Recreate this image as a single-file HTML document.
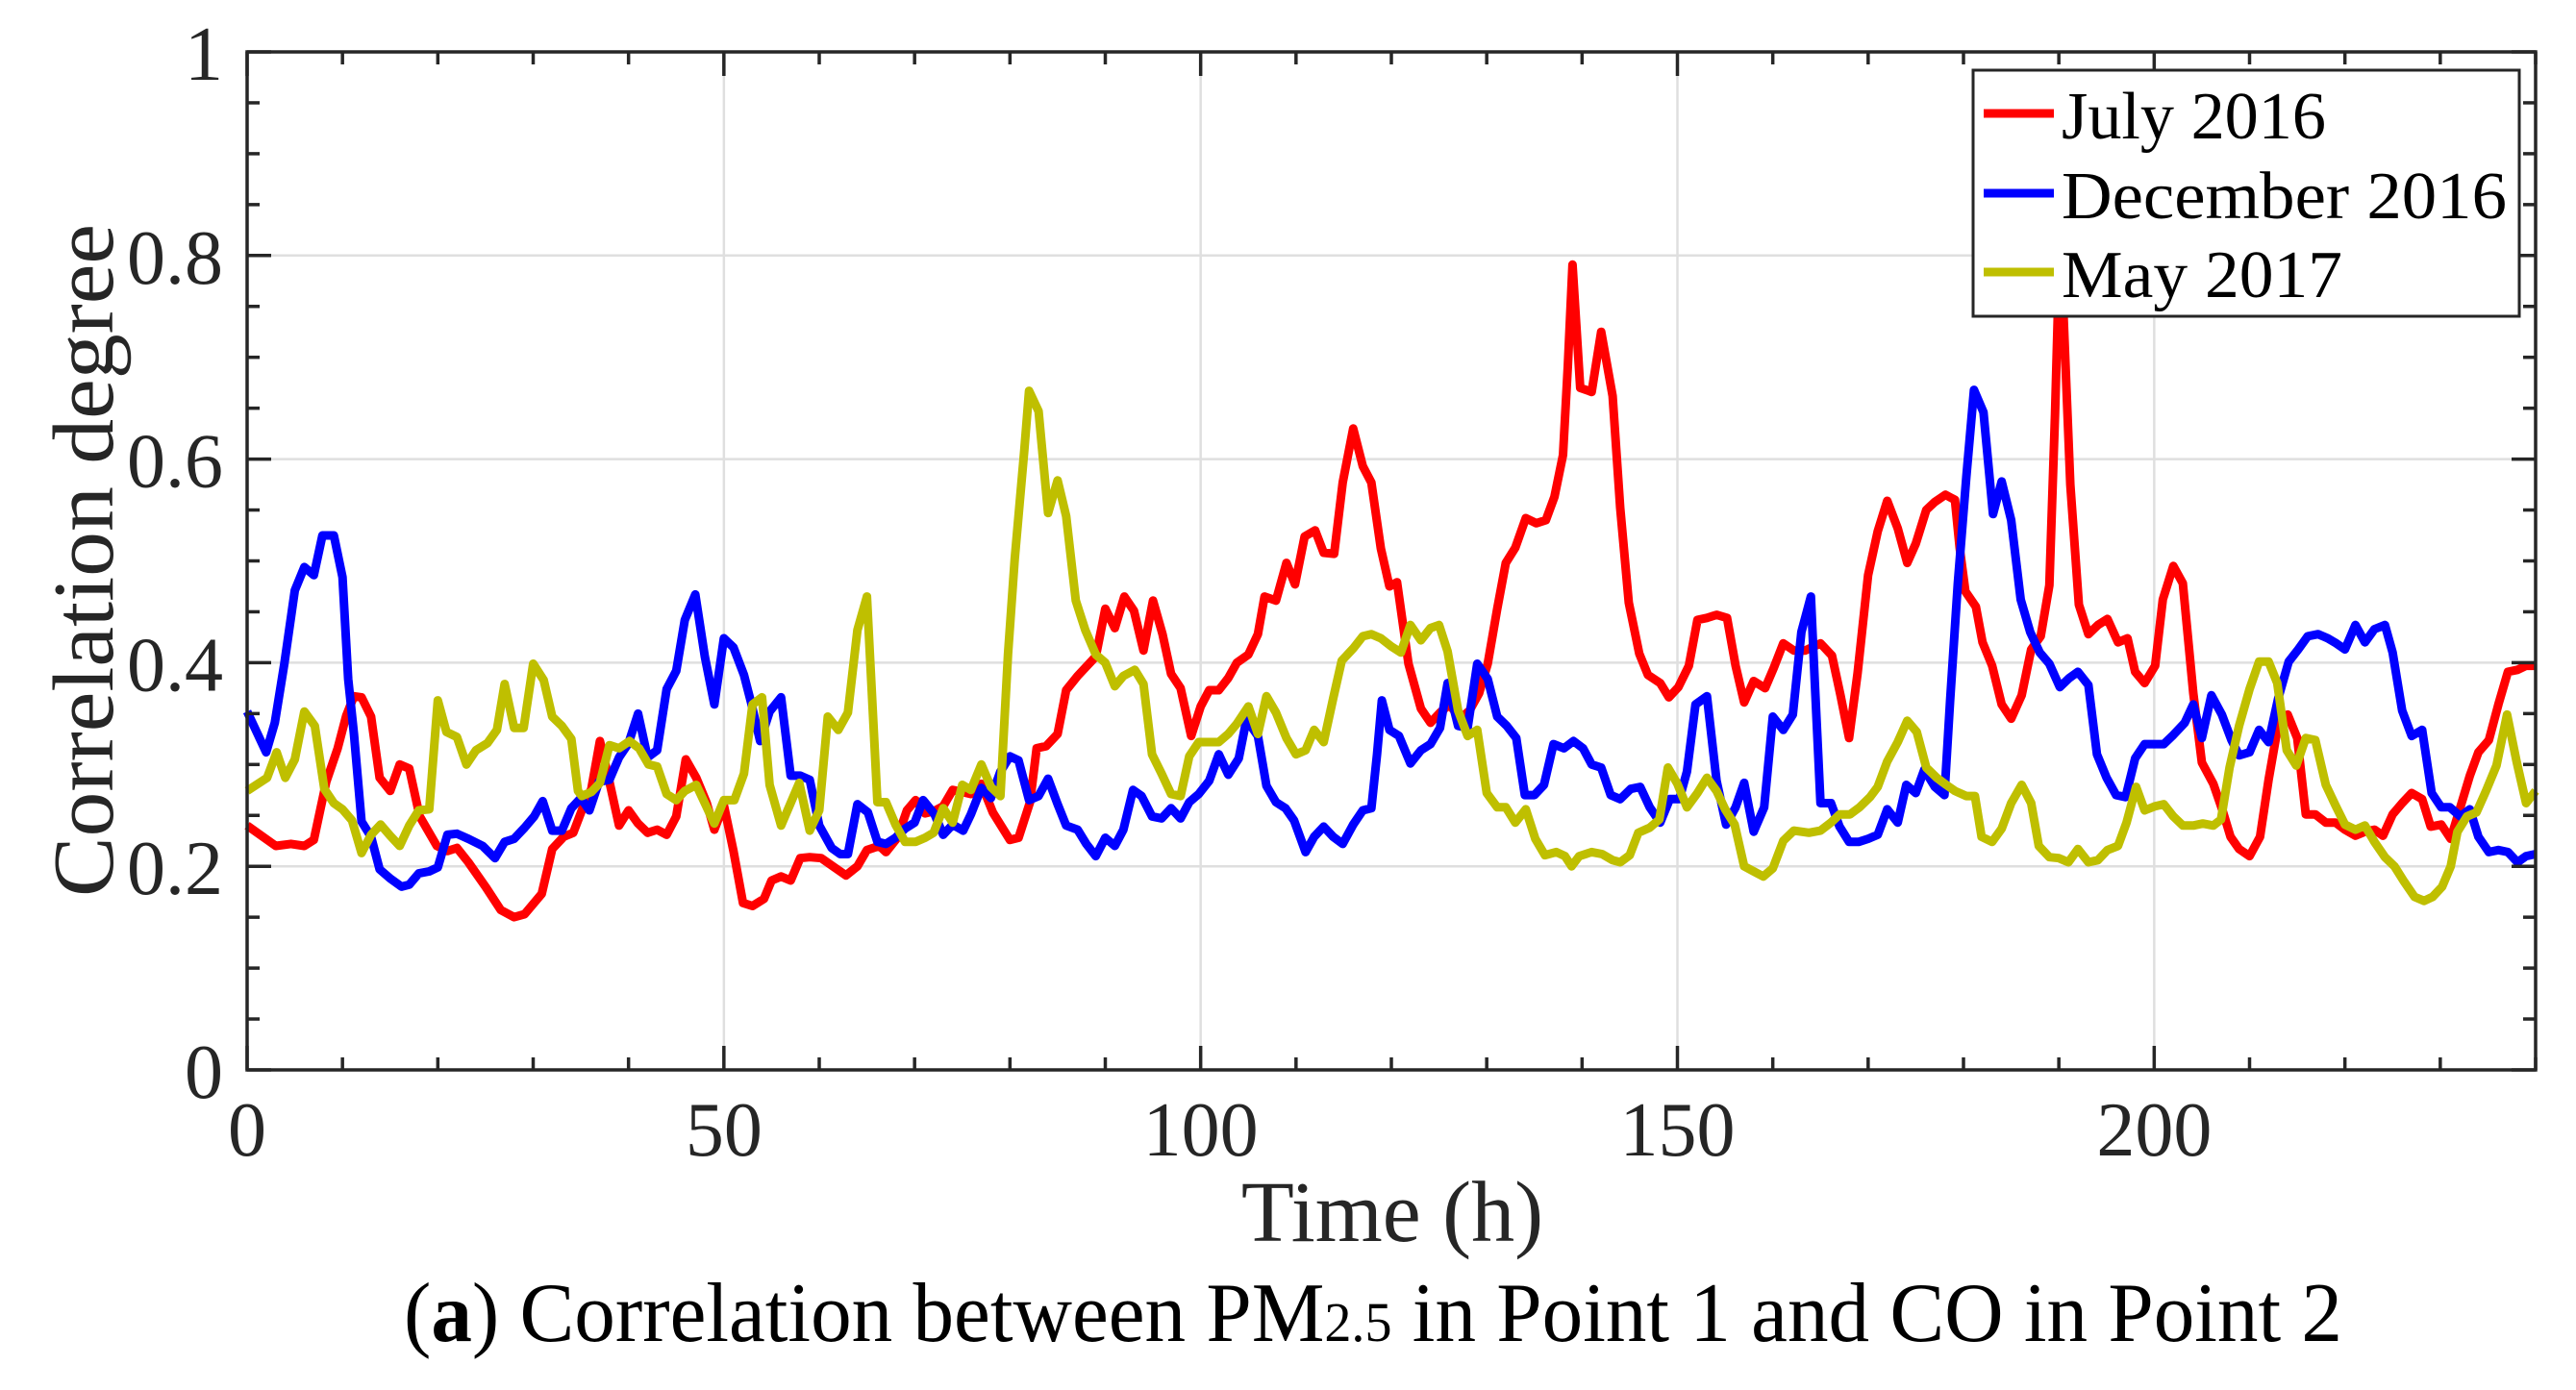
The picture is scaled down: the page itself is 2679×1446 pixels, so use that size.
<!DOCTYPE html>
<html><head><meta charset="utf-8"><style>
html,body{margin:0;padding:0;background:#fff;}
svg{display:block;font-family:"Liberation Serif",serif;}
</style></head><body>
<svg id="chart" xmlns="http://www.w3.org/2000/svg" width="2679" height="1446" viewBox="0 0 2679 1446">
<rect x="0" y="0" width="2679" height="1446" fill="#fff"/>
<g id="grid"></g>
<g id="series"></g>
<g id="axes"></g>
<g id="legend"></g>
<text x="1448" y="1291" font-size="90" text-anchor="middle" fill="#262626">Time (h)</text>
<text transform="translate(117,583) rotate(-90)" x="0" y="0" font-size="90" text-anchor="middle" fill="#262626" textLength="700" lengthAdjust="spacingAndGlyphs">Correlation degree</text>
<text x="420" y="1395" font-size="88" fill="#000" textLength="2016" lengthAdjust="spacingAndGlyphs">(<tspan font-weight="bold">a</tspan>) Correlation between PM<tspan font-size="58">2.5</tspan> in Point 1 and CO in Point 2</text>
</svg>
<script>
const xTicks = [0, 50, 100, 150, 200];
const yTicks = [0, 0.2, 0.4, 0.6, 0.8, 1];
const yTickLabels = ["0", "0.2", "0.4", "0.6", "0.8", "1"];
const seriesNames = ["July 2016", "December 2016", "May 2017"];

const julyH = [0,3,4.6,6,7,8.3,9.5,10.4,11.2,12,13,13.9,15,16,17,18.1,19.9,21,22,23.2,25,26.6,28,29.1,30.9,32,33.2,34.2,35.1,36.1,37,38,39,40,41,42,43,44,45,46,47.1,48.2,49,50,51,52,53,54.2,55,56,57,58,59,60.2,62.8,64,65,66.3,67,68.2,69.2,70.1,71.1,72,73,74,75,75.9,77,78.2,80,80.9,82.1,82.8,83.8,85,85.9,87.1,88,89,90,91,92,93,94,95,96,96.9,97.9,99,100,100.9,101.9,102.9,103.8,105,106,106.7,107.9,109,109.9,110.9,112,112.9,114,114.9,116,117,117.9,118.9,119.8,120.6,121.8,123.1,124.1,125.1,126.1,127.2,128.2,129.2,130.1,131.1,132,133,134.1,135.2,136.2,137.1,138,138.5,139,139.8,141,142,143.2,144,144.9,146,146.9,148.2,149.1,150.1,151.2,152.1,153.1,154.1,155.2,156.1,157,158,159.2,160.1,161.1,162.2,163.4,165,166.2,167.1,168,168.9,170,171,172,173.1,174.1,175,176.1,177,178.1,179.1,179.6,180.2,181.3,182,183,184,185,186.1,187.1,188.1,189,189.6,190,190.5,191.2,192.1,193.1,194.1,195.1,196.2,197.2,198,199,200.1,200.9,202,203,204.1,205,206.2,207.2,208,208.9,210,211.1,212,213,214,215,215.9,216.9,218,219,220,221.1,222.1,223.1,224,225,226,227,228.1,229,230.1,231.1,232.1,233.1,234,235.1,236.1,237.1,238.1,239,240];
const julyV = [0.24,0.22,0.222,0.22,0.226,0.283,0.316,0.348,0.367,0.366,0.347,0.287,0.274,0.30,0.296,0.249,0.22,0.215,0.218,0.204,0.18,0.157,0.15,0.153,0.173,0.217,0.229,0.233,0.255,0.276,0.323,0.283,0.24,0.255,0.242,0.233,0.236,0.231,0.249,0.305,0.287,0.262,0.236,0.26,0.215,0.164,0.161,0.168,0.186,0.19,0.186,0.208,0.209,0.208,0.191,0.2,0.216,0.22,0.214,0.228,0.255,0.265,0.252,0.254,0.259,0.275,0.273,0.271,0.281,0.253,0.226,0.228,0.263,0.316,0.318,0.33,0.373,0.387,0.396,0.406,0.453,0.434,0.465,0.451,0.412,0.461,0.428,0.389,0.375,0.328,0.357,0.373,0.373,0.385,0.4,0.408,0.428,0.465,0.461,0.498,0.477,0.524,0.53,0.508,0.507,0.577,0.63,0.593,0.577,0.512,0.475,0.479,0.399,0.355,0.341,0.351,0.359,0.345,0.353,0.37,0.399,0.453,0.498,0.513,0.542,0.537,0.54,0.563,0.604,0.691,0.791,0.67,0.666,0.725,0.662,0.552,0.459,0.409,0.388,0.38,0.366,0.376,0.397,0.442,0.444,0.447,0.444,0.397,0.361,0.382,0.375,0.395,0.419,0.412,0.412,0.419,0.407,0.368,0.326,0.39,0.486,0.529,0.559,0.532,0.498,0.517,0.55,0.558,0.565,0.56,0.513,0.47,0.455,0.42,0.397,0.359,0.345,0.368,0.413,0.426,0.476,0.644,0.78,0.74,0.575,0.457,0.428,0.437,0.443,0.42,0.424,0.391,0.38,0.397,0.462,0.495,0.478,0.37,0.302,0.281,0.254,0.229,0.217,0.21,0.229,0.285,0.339,0.349,0.326,0.251,0.251,0.243,0.243,0.236,0.23,0.234,0.236,0.23,0.251,0.262,0.272,0.266,0.239,0.241,0.227,0.258,0.289,0.312,0.324,0.359,0.391,0.393,0.397,0.397];

const decH = [0,2,2.9,3.9,5,6,7,7.9,9.1,10,10.6,11.2,12,13,13.9,15,16.2,17,18,19.1,20,21,22,23.2,24.7,26,27,28,29.1,30.1,31,32,33,34,35,35.9,36.9,38,39,40,41,42,43,44,45,45.9,47,48,49,50,51,52.1,52.9,53.8,54.8,56,57,58,59,60,61.3,62.2,63,64,65.1,66.1,67,68,69,70,70.9,72.1,73,74,75.1,75.9,77,78,79,80,80.9,82,83,84,85,85.9,87.1,88,89,90,91,91.9,92.9,93.8,94.9,95.9,96.9,97.9,98.8,99.8,100.9,101.9,102.9,104,104.8,106,106.9,107.9,108.9,109.8,111,111.9,112.9,113.9,114.9,116,117,117.9,118.5,119,119.8,120.8,122,123.1,124.1,125.1,125.9,127,128,129,130.1,131.1,132.1,133.1,134,135,136,137,138.1,139.1,140.1,141,142,143,144,145.1,146.1,147.1,148.2,149.2,150.2,151,151.9,153.1,154.1,155.1,156.1,157,158,159.1,160,161.1,162.1,163,164,164.4,165,166.1,167,168,169,170,171,172,173.1,174,175,175.9,177,178,178.6,179.4,180.3,181.1,182.1,183.1,184,185,186,187,188,189,190.1,191.1,192,193.1,194,195,196,197,198,199,201,202,203.2,204.1,205,206,207.1,208.1,208.9,210,211,212,213,214.1,215.1,216.1,217.2,218.2,219.1,220,221.1,222.1,223.1,224.2,225,226,227,228.1,229.1,230.1,231,232.1,233.1,234,235.1,236.1,237.1,238.1,239,240];
const decV = [0.352,0.312,0.341,0.399,0.471,0.494,0.486,0.525,0.525,0.484,0.384,0.33,0.244,0.229,0.197,0.188,0.18,0.182,0.193,0.195,0.199,0.231,0.232,0.227,0.22,0.208,0.224,0.227,0.238,0.249,0.264,0.235,0.235,0.257,0.267,0.255,0.283,0.285,0.307,0.321,0.35,0.307,0.314,0.374,0.392,0.442,0.467,0.406,0.359,0.424,0.415,0.388,0.359,0.323,0.352,0.366,0.289,0.289,0.285,0.24,0.218,0.212,0.212,0.261,0.253,0.224,0.222,0.228,0.237,0.243,0.265,0.251,0.231,0.241,0.235,0.251,0.277,0.267,0.293,0.308,0.304,0.265,0.269,0.286,0.261,0.24,0.236,0.222,0.21,0.228,0.22,0.236,0.275,0.269,0.249,0.247,0.257,0.247,0.263,0.271,0.284,0.31,0.29,0.306,0.344,0.328,0.279,0.263,0.257,0.245,0.214,0.229,0.239,0.229,0.222,0.241,0.255,0.257,0.31,0.363,0.334,0.328,0.301,0.314,0.32,0.336,0.38,0.338,0.336,0.399,0.384,0.347,0.338,0.326,0.27,0.27,0.28,0.32,0.316,0.323,0.316,0.3,0.297,0.27,0.266,0.276,0.278,0.258,0.243,0.266,0.266,0.293,0.359,0.367,0.284,0.241,0.258,0.282,0.234,0.258,0.347,0.334,0.349,0.43,0.465,0.382,0.262,0.262,0.239,0.224,0.224,0.227,0.231,0.256,0.243,0.28,0.272,0.295,0.278,0.27,0.363,0.478,0.583,0.668,0.646,0.546,0.578,0.54,0.462,0.43,0.41,0.399,0.376,0.385,0.391,0.378,0.31,0.287,0.27,0.268,0.306,0.32,0.32,0.329,0.341,0.359,0.326,0.368,0.349,0.324,0.309,0.312,0.334,0.322,0.365,0.401,0.413,0.426,0.428,0.424,0.419,0.413,0.437,0.42,0.433,0.437,0.41,0.353,0.328,0.334,0.272,0.258,0.258,0.249,0.256,0.229,0.214,0.216,0.214,0.204,0.21,0.212];

const mayH = [0,2.1,3.1,4,5,6,7.1,8.1,9.1,10,11,12,13,14,15,16,17,18,19.1,20,20.9,22,23,24,25.2,26.2,27,28,29,30,31.1,32,33,34,34.7,35.1,36.1,37,38,39,40.1,41.1,42.1,43,44,45,45.9,47.1,48,49,50,51.1,52.1,53,54,54.8,56,56.9,57.9,59,60,60.9,62,63,64,65,66.1,67,68,69,70.1,71.1,72,73,74,75,75.9,77,78,79,79.8,80.5,81.5,82,83,84,85,85.9,86.9,87.9,89,90,91,91.9,93.1,94,94.9,95.9,96.9,97.9,98.8,99.8,101.9,102.9,103.8,105,106,106.9,107.9,109,110,111,111.9,112.9,113.9,114.8,116,117,117.9,118.9,120,121,122,123.1,124.1,125,125.9,127,128,129,130,131.1,132,133,134.1,135.1,136.1,137.3,138.2,138.9,139.7,141,142.1,143.2,144,145,145.9,147.1,148.1,149,150,151,152.1,153.1,154.1,155,156,157,158,159,160,161.1,162.2,163.8,165,166.1,167,168.1,169.1,170.2,171,172,173.1,174.1,175.1,176.1,177.2,178.2,179.1,180.3,181.2,181.9,183,184,185,186.1,187.1,187.9,189,190,191,192,193.1,194.1,195.1,196.2,197.1,198.1,199,200.1,201,202,203,204.1,205.1,206.2,207,207.9,208.9,210,211,212,212.9,213.9,214.9,215.9,216.9,218,219,220,221.1,222.1,223.1,224.2,225.2,226.2,227.3,228.3,229.2,230.2,231.1,231.8,232.8,233.8,234.8,235.9,237,238,239,240];
const mayV = [0.274,0.287,0.312,0.287,0.305,0.352,0.338,0.276,0.262,0.256,0.245,0.213,0.231,0.241,0.23,0.22,0.24,0.255,0.256,0.363,0.332,0.327,0.30,0.314,0.321,0.334,0.379,0.336,0.336,0.399,0.383,0.347,0.338,0.325,0.274,0.269,0.273,0.282,0.319,0.316,0.323,0.316,0.30,0.298,0.271,0.265,0.274,0.28,0.262,0.242,0.265,0.265,0.291,0.359,0.366,0.28,0.24,0.26,0.282,0.235,0.255,0.347,0.334,0.351,0.432,0.465,0.263,0.263,0.241,0.224,0.224,0.228,0.233,0.257,0.243,0.28,0.275,0.3,0.278,0.269,0.408,0.502,0.608,0.667,0.647,0.547,0.579,0.544,0.461,0.432,0.408,0.4,0.377,0.387,0.393,0.379,0.31,0.291,0.271,0.269,0.308,0.322,0.322,0.33,0.34,0.357,0.33,0.367,0.351,0.326,0.31,0.314,0.334,0.322,0.365,0.402,0.414,0.426,0.428,0.424,0.416,0.41,0.437,0.422,0.434,0.437,0.411,0.353,0.328,0.334,0.272,0.258,0.258,0.243,0.256,0.227,0.211,0.214,0.21,0.2,0.21,0.214,0.212,0.206,0.204,0.211,0.233,0.238,0.246,0.297,0.281,0.258,0.272,0.287,0.274,0.256,0.241,0.2,0.195,0.19,0.198,0.225,0.235,0.233,0.235,0.243,0.251,0.251,0.258,0.268,0.278,0.303,0.322,0.343,0.332,0.297,0.287,0.28,0.274,0.269,0.269,0.229,0.224,0.237,0.262,0.28,0.262,0.22,0.209,0.208,0.204,0.217,0.204,0.206,0.216,0.22,0.243,0.278,0.255,0.259,0.261,0.249,0.24,0.24,0.242,0.24,0.246,0.297,0.338,0.374,0.401,0.401,0.38,0.314,0.299,0.326,0.324,0.28,0.26,0.241,0.236,0.24,0.224,0.209,0.2,0.185,0.17,0.166,0.17,0.18,0.2,0.234,0.249,0.253,0.274,0.299,0.349,0.303,0.262,0.274];

const NS = "http://www.w3.org/2000/svg";
const L = 257, R = 2637, T = 54, B = 1113;
const XMIN = 0, XMAX = 240, YMIN = 0, YMAX = 1;
function xs(h){ return L + (h - XMIN) / (XMAX - XMIN) * (R - L); }
function ys(v){ return B - (v - YMIN) / (YMAX - YMIN) * (B - T); }
function mk(tag, attrs, parent){ const e = document.createElementNS(NS, tag); for (const k in attrs) e.setAttribute(k, attrs[k]); parent.appendChild(e); return e; }

const grid = document.getElementById('grid');
const axes = document.getElementById('axes');
const seriesG = document.getElementById('series');
const legend = document.getElementById('legend');

xTicks.forEach(function(t){
  if (t === XMIN) return;
  const g = mk('line', {x1: xs(t), x2: xs(t), y1: T, y2: B, stroke: '#dfdfdf', 'stroke-width': 2.5}, grid);
  
  
});
yTicks.forEach(function(t){
  if (t === YMIN || t === YMAX) return;
  const g = mk('line', {x1: L, x2: R, y1: ys(t), y2: ys(t), stroke: '#dfdfdf', 'stroke-width': 2.5}, grid);
  
  
});

const colors = ['#ff0000', '#0000ff', '#bfbf00'];
const allH = [julyH, decH, mayH];
const allV = [julyV, decV, mayV];
const seriesKeys = ['july-2016-line', 'december-2016-line', 'may-2017-line'];
allH.forEach(function(hs, i){
  const vs = allV[i];
  const d = hs.map(function(h, j){ return (j ? 'L' : 'M') + xs(h).toFixed(1) + ' ' + ys(vs[j]).toFixed(1); }).join(' ');
  const p = mk('path', {d: d, fill: 'none', stroke: colors[i], 'stroke-width': 9, 'stroke-linejoin': 'round'}, seriesG);
  
  
});

const box = mk('rect', {x: L, y: T, width: R - L, height: B - T, fill: 'none', stroke: '#262626', 'stroke-width': 3.5}, axes);



for (let t = XMIN; t <= XMAX + 0.001; t += 10) {
  const major = (t % 50 === 0);
  const len = major ? 25 : 13;
  const a = mk('line', {x1: xs(t), x2: xs(t), y1: B, y2: B - len, stroke: '#262626', 'stroke-width': 3.5}, axes);
  
  
  const b = mk('line', {x1: xs(t), x2: xs(t), y1: T, y2: T + len, stroke: '#262626', 'stroke-width': 3.5}, axes);
  
  
}
for (let k = 0; k <= 20; k++) {
  const t = k * 0.05;
  const major = (k % 4 === 0);
  const len = major ? 25 : 13;
  const a = mk('line', {x1: L, x2: L + len, y1: ys(t), y2: ys(t), stroke: '#262626', 'stroke-width': 3.5}, axes);
  
  
  const b = mk('line', {x1: R, x2: R - len, y1: ys(t), y2: ys(t), stroke: '#262626', 'stroke-width': 3.5}, axes);
  
  
}
xTicks.forEach(function(t){
  const tx = mk('text', {x: xs(t), y: 1202, 'font-size': 80, 'text-anchor': 'middle', fill: '#262626'}, axes);
  tx.textContent = String(t);
  
  
});
yTicks.forEach(function(t, i){
  const tx = mk('text', {x: 232, y: ys(t) + 29, 'font-size': 80, 'text-anchor': 'end', fill: '#262626'}, axes);
  tx.textContent = yTickLabels[i];
  
  
});

const lb = mk('rect', {x: 2052, y: 73, width: 568, height: 256, fill: '#fff', stroke: '#262626', 'stroke-width': 3}, legend);


const rowY = [118, 201, 283];
const txtLen = [275, 463, 292];
seriesNames.forEach(function(n, i){
  const ln = mk('line', {x1: 2063, x2: 2136, y1: rowY[i], y2: rowY[i], stroke: colors[i], 'stroke-width': 9}, legend);
  
  
  const tx = mk('text', {x: 2144, y: rowY[i] + 26, 'font-size': 70, fill: '#000', textLength: txtLen[i], lengthAdjust: 'spacingAndGlyphs'}, legend);
  tx.textContent = n;
  
  
});
</script>
</body></html>
